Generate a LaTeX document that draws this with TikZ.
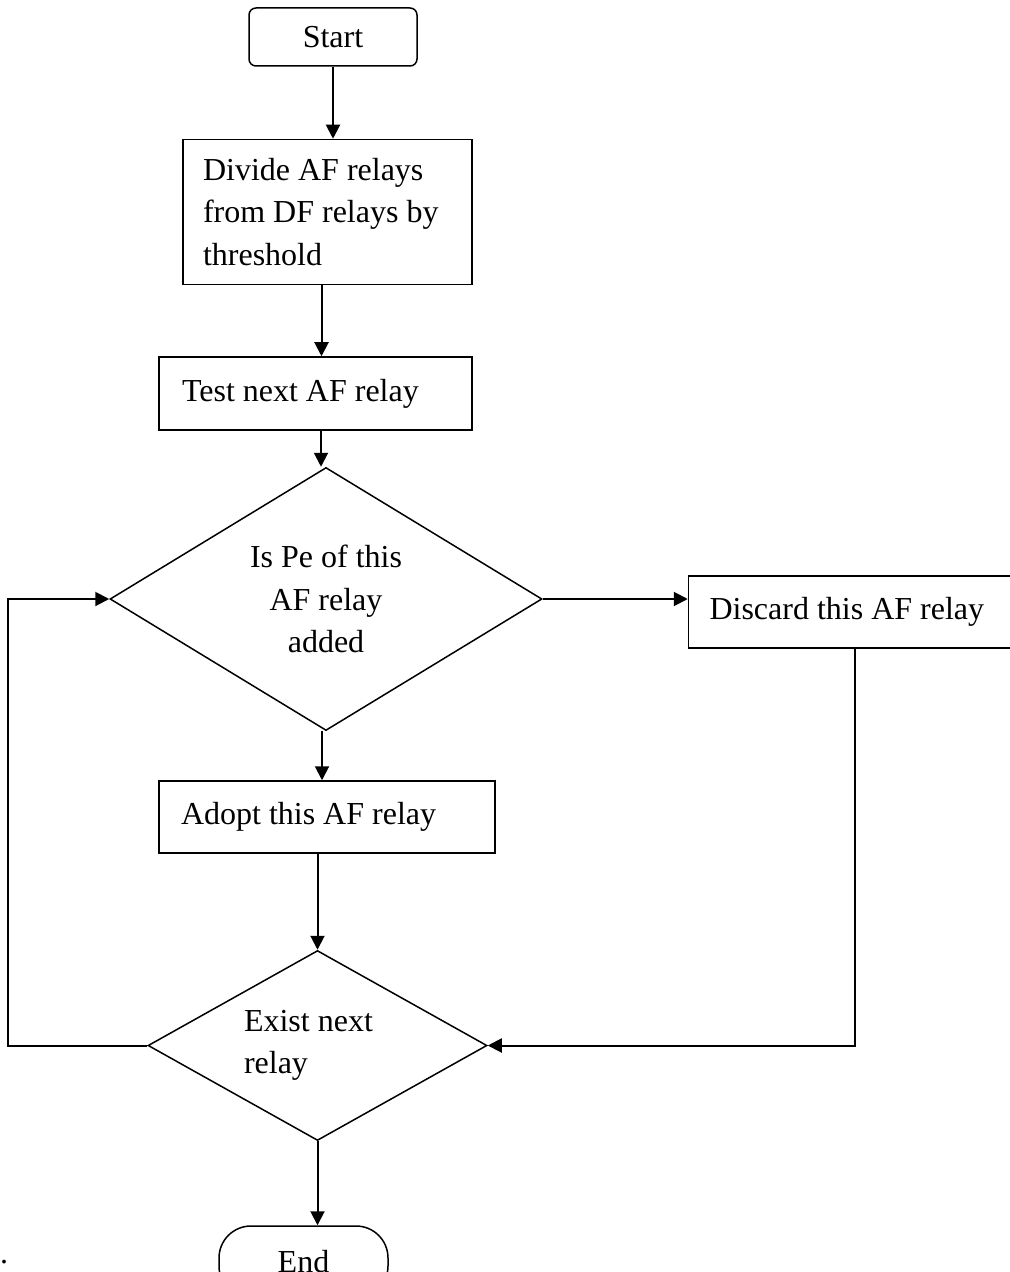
\documentclass[tikz,border=0pt]{standalone}
\usepackage{fontspec}
\setmainfont{Liberation Serif}
\usetikzlibrary{arrows.meta,positioning,shapes.geometric}
\tikzset{
	box/.style={draw, line width=0.75pt, align=flush left, inner ysep=0pt,
		font=\fontsize{16}{21.25}\selectfont},
	decision/.style={draw, diamond, line width=0.75pt, inner sep=0pt, align=center,
		font=\fontsize{16}{21.25}\selectfont},
	arrow/.style={-{Triangle[length=7pt,width=7pt]}, line width=1pt},
	plainline/.style={line width=1pt}
}
\begin{document}
\begin{tikzpicture}[x=0.5pt, y=-0.5pt]
	\useasboundingbox (0,0) rectangle (1010,1272);
	
	%% -- Terminals and process boxes
	\node[box, rounded corners=3.5pt, align=center, minimum width=84pt,
	minimum height=29pt] (start) at (333,37) {Start};
	
	\node[box, text width=124.5pt, inner xsep=10pt, minimum height=72.5pt,
	below=36pt of start, xshift=-2.75pt] (div)
	{Divide AF relays\\from DF relays by\\threshold};
	
	\node[box, text width=133.5pt, inner xsep=11.5pt, minimum height=36.5pt,
	below=35.5pt of div, xshift=-6pt] (test) {Test next AF relay};
	
	%% -- First decision
	\node[decision, aspect=1.64, minimum width=216pt, minimum height=131.5pt,
	below=18pt of test, xshift=5.25pt] (dec1)
	{Is Pe of this\\AF relay\\added};
	
	\node[box, text width=145.5pt, inner xsep=10.5pt, minimum height=36pt,
	right=72.5pt of dec1, yshift=-6.5pt] (disc) {Discard this AF relay};
	
	\node[box, text width=146pt, inner xsep=11pt, minimum height=36pt,
	below=24.5pt of dec1, xshift=0.5pt] (adopt) {Adopt this AF relay};
	
	%% -- Second decision
	\node[decision, aspect=1.78, minimum width=169.5pt, minimum height=95pt,
	text width=73.5pt, align=flush left, below=48pt of adopt, xshift=-4.75pt] (dec2)
	{Exist next\\relay};
	
	\node[box, rounded corners=16pt, align=center, minimum width=84.5pt,
	minimum height=36pt, below=42pt of dec2, xshift=-7pt] (fin) {End};
	
	\node[inner sep=0pt, font=\fontsize{16}{21.25}\selectfont] (dot) at (4,1262) {.};
	
	%% -- Main flow arrows
	\draw[arrow] (start) -- (start |- div.north);
	\draw[arrow] ([xshift=-3pt]div.south) -- ([xshift=-3pt]div.south |- test.north);
	\draw[arrow] ([xshift=2.75pt]test.south) -- ([xshift=2.75pt]test.south |- dec1.north);
	\draw[arrow] ([xshift=-2pt]dec1.south) -- ([xshift=-2pt]dec1.south |- adopt.north);
	\draw[arrow] (dec2.north |- adopt.south) -- (dec2.north);
	\draw[arrow] (dec2.south) -- (dec2.south |- fin.north);
	
	%% -- Side branches
	\draw[arrow] (dec1.east) -- (dec1.east -| disc.west);
	\draw[arrow] (disc.south) |- (dec2.east);
	\draw[arrow] (dec2.west) -- ++(-69.5pt,0) |- (dec1.west);
	
\end{tikzpicture}
\end{document}
